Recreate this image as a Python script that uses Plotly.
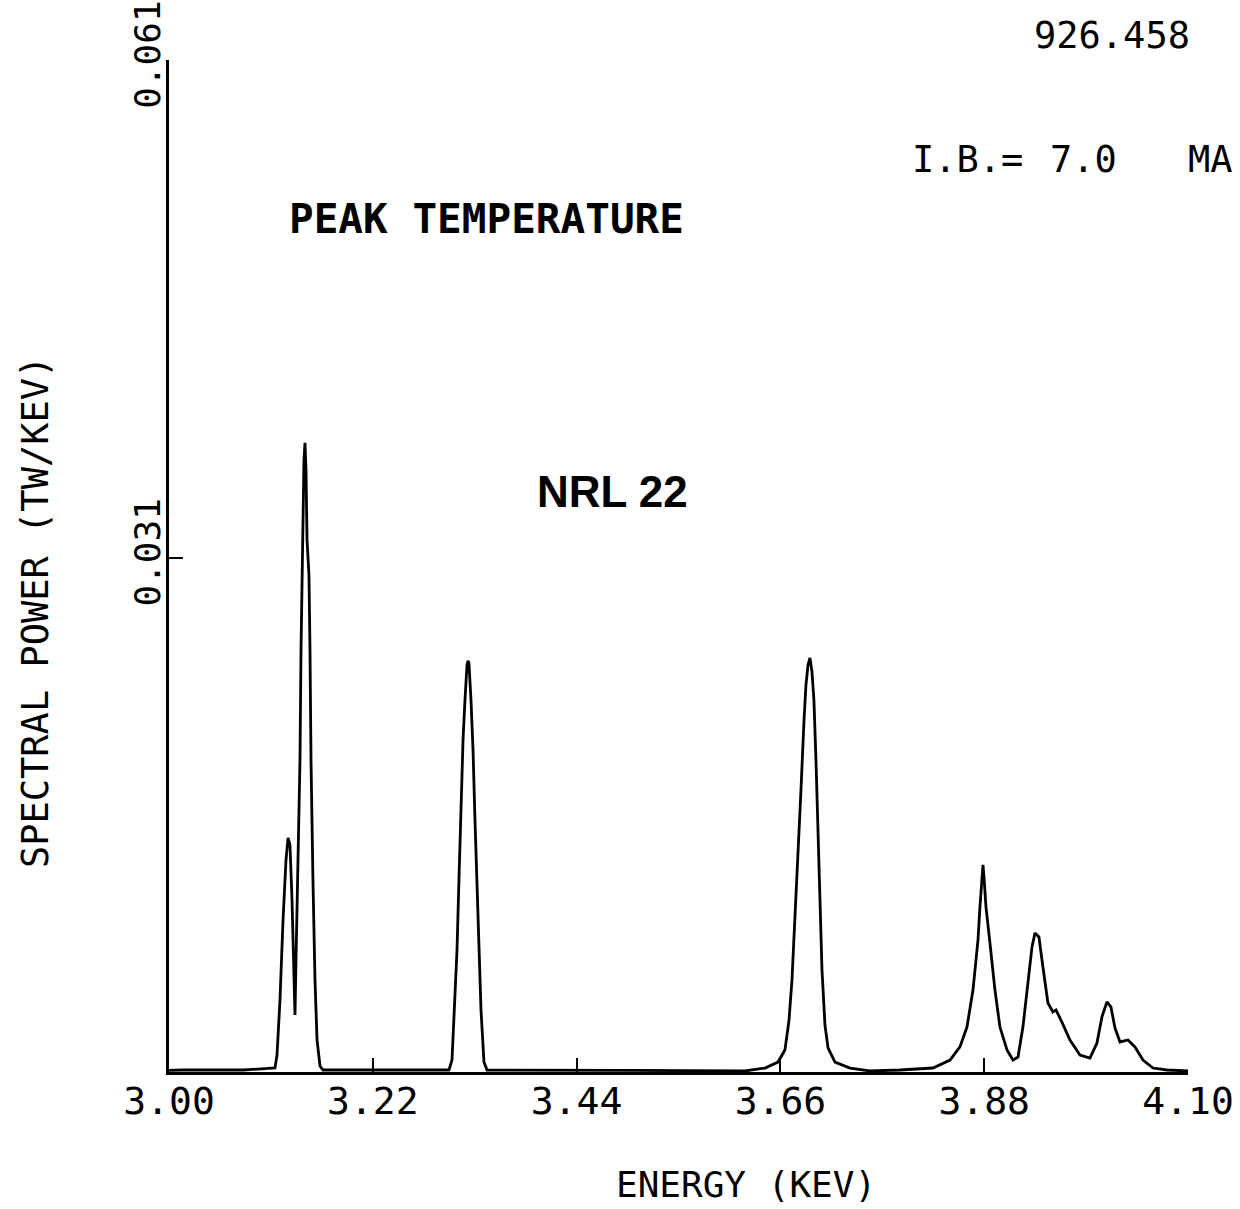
import plotly.graph_objects as go

# ---- data (energy in keV, spectral power in TW/keV) ----
energy_kev = [
    3.0000, 3.0150, 3.0800,
    # doublet near 3.13-3.15
    3.1144, 3.1166, 3.1198, 3.1231, 3.1263, 3.1285, 3.1306, 3.1328, 3.1349, 3.1360,
    3.1371, 3.1393, 3.1414, 3.1425, 3.1436, 3.1447, 3.1457, 3.1468, 3.1479, 3.1490,
    3.1511, 3.1522, 3.1533, 3.1554, 3.1576, 3.1598, 3.1630, 3.1662,
    3.2500,
    # line near 3.32
    3.3022, 3.3055, 3.3087, 3.3109, 3.3130, 3.3152, 3.3174, 3.3195, 3.3217, 3.3228,
    3.3238, 3.3260, 3.3282, 3.3303, 3.3325, 3.3346, 3.3368, 3.3400, 3.3433,
    3.5000,
    # line near 3.69
    3.6218, 3.6434, 3.6574, 3.6649, 3.6693, 3.6725, 3.6757, 3.6790, 3.6822, 3.6855,
    3.6876, 3.6898, 3.6919, 3.6941, 3.6962, 3.6984, 3.7006, 3.7027, 3.7049, 3.7081,
    3.7114, 3.7189, 3.7351, 3.7567,
    # group 3.85-4.08
    3.7891, 3.8247, 3.8431, 3.8538, 3.8614, 3.8679, 3.8733, 3.8754, 3.8776, 3.8787,
    3.8798, 3.8819, 3.8862, 3.8916, 3.8970, 3.9046, 3.9111, 3.9165, 3.9218, 3.9272,
    3.9316, 3.9348, 3.9391, 3.9434, 3.9488, 3.9542, 3.9575, 3.9639, 3.9726, 3.9834,
    3.9942, 4.0017, 4.0071, 4.0125, 4.0168, 4.0212, 4.0266, 4.0352, 4.0427, 4.0514,
    4.0622, 4.0773, 4.0913, 4.1000,
]

power_tw_per_kev = [
    0.00010, 0.00012, 0.00012,
    0.00024, 0.00102, 0.00434, 0.00916, 0.01278, 0.01411, 0.01368, 0.01037, 0.00555, 0.00344,
    0.00675, 0.01338, 0.01881, 0.02544, 0.02966, 0.03207, 0.03689, 0.03792, 0.03629, 0.03207,
    0.02996, 0.02544, 0.01881, 0.01157, 0.00555, 0.00193, 0.00036, 0.00012,
    0.00010,
    0.00012, 0.00072, 0.00434, 0.00735, 0.01157, 0.01640, 0.02001, 0.02242, 0.02453, 0.02478,
    0.02465, 0.02242, 0.01941, 0.01519, 0.01157, 0.00735, 0.00374, 0.00060, 0.00012,
    0.00010,
    0.00006, 0.00024, 0.00060, 0.00133, 0.00313, 0.00555, 0.00916, 0.01278, 0.01700, 0.02122,
    0.02333, 0.02453, 0.02496, 0.02411, 0.02242, 0.01881, 0.01459, 0.01037, 0.00615, 0.00283,
    0.00145, 0.00060, 0.00024, 0.00006,
    0.00012, 0.00024, 0.00072, 0.00151, 0.00271, 0.00494, 0.00796, 0.00995, 0.01139, 0.01248,
    0.01175, 0.00995, 0.00778, 0.00494, 0.00271, 0.00133, 0.00072, 0.00090, 0.00271, 0.00555,
    0.00754, 0.00838, 0.00814, 0.00633, 0.00416, 0.00362, 0.00374, 0.00301, 0.00193, 0.00102,
    0.00084, 0.00175, 0.00332, 0.00422, 0.00392, 0.00265, 0.00181, 0.00193, 0.00151, 0.00072,
    0.00024, 0.00012, 0.00006, 0.00006,
]

x_tick_values = [3.00, 3.22, 3.44, 3.66, 3.88, 4.10]
x_tick_labels = ["3.00", "3.22", "3.44", "3.66", "3.88", "4.10"]
y_tick_values = [0.031, 0.061]
y_tick_labels = ["0.031", "0.061"]

MONO = "DejaVu Sans Mono"

fig = go.Figure()
fig.add_trace(go.Scatter(
    x=energy_kev, y=power_tw_per_kev, mode="lines",
    line=dict(color="black", width=2.8), showlegend=False, hoverinfo="skip",
))

fig.update_layout(
    width=1240, height=1209,
    margin=dict(l=169, r=52, t=60, b=137, pad=0),
    paper_bgcolor="white", plot_bgcolor="white",
    showlegend=False,
    xaxis=dict(
        range=[3.0, 4.10], tickvals=x_tick_values, ticktext=x_tick_labels,
        ticks="inside", ticklen=14, tickwidth=2, tickcolor="black",
        showline=True, linecolor="black", linewidth=2.5,
        showgrid=False, zeroline=False, automargin=False,
        ticklabelstandoff=-6,
        tickfont=dict(family=MONO, size=38, color="black"),
    ),
    yaxis=dict(
        range=[0, 0.061], tickvals=y_tick_values, ticktext=y_tick_labels,
        ticks="inside", ticklen=14, tickwidth=2, tickcolor="black",
        showline=True, linecolor="black", linewidth=2.5,
        showgrid=False, zeroline=False, tickangle=-90, automargin=False,
        ticklabelstandoff=-8,
        tickfont=dict(family=MONO, size=36, color="black"),
    ),
)

annotations = [
    dict(text="926.458", x=1.0039, y=1.0247, xanchor="right", yanchor="middle",
         font=dict(family=MONO, size=37, color="black")),
    dict(text="I.B.=", x=0.7272, y=0.9012, xanchor="left", yanchor="middle",
         font=dict(family=MONO, size=37, color="black")),
    dict(text="7.0", x=0.8626, y=0.9012, xanchor="left", yanchor="middle",
         font=dict(family=MONO, size=37, color="black")),
    dict(text="MA", x=0.9980, y=0.9012, xanchor="left", yanchor="middle",
         font=dict(family=MONO, size=37, color="black")),
    dict(text="PEAK TEMPERATURE", x=0.1158, y=0.8429, xanchor="left", yanchor="middle",
         font=dict(family=MONO, size=41, color="black", weight="bold")),
    dict(text="<b>NRL 22</b>", x=0.3592, y=0.5741, xanchor="left", yanchor="middle",
         font=dict(family="Liberation Sans", size=44, color="black")),
    dict(text="ENERGY (KEV)", x=0.5662, y=-0.1116, xanchor="center", yanchor="middle",
         font=dict(family=MONO, size=36, color="black")),
    dict(text="SPECTRAL POWER (TW/KEV)", x=-0.1315, y=0.4545, xanchor="center",
         yanchor="middle", textangle=-90,
         font=dict(family=MONO, size=37, color="black")),
]
for a in annotations:
    fig.add_annotation(xref="paper", yref="paper", showarrow=False, **a)

fig.write_html("out.html")
